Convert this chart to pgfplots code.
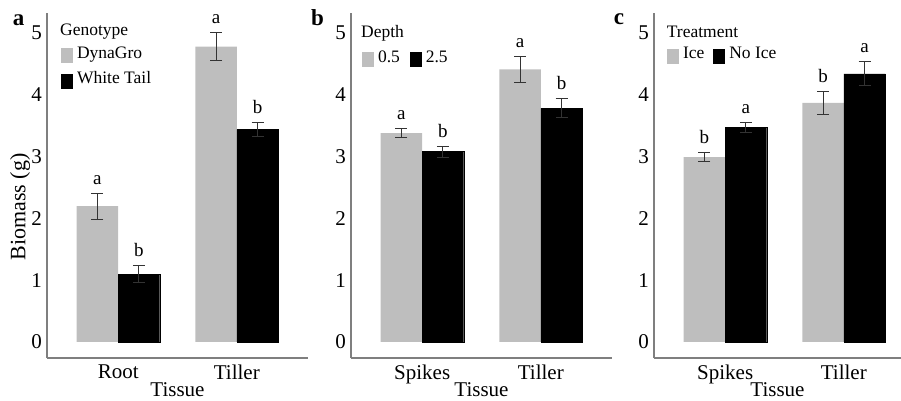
\documentclass[border=0pt]{standalone}
\usepackage{fontspec}
\setmainfont{Liberation Serif}
\usepackage{pgfplots}
\pgfplotsset{compat=1.18}
\usepackage{pgfplotstable}

\definecolor{barg}{HTML}{BEBEBE}
\definecolor{errc}{HTML}{333333}
\definecolor{axc}{HTML}{7F7F7F}

% Panel a
\pgfplotstableread{
x y e
0.825 2.20 0.21
1.825 4.78 0.23
}\aGray
\pgfplotstableread{
x y e
1.175 1.10 0.13
2.175 3.44 0.12
}\aBlack
\pgfplotstableread{
x y t
0.825 2.41 a
1.825 5.01 a
1.175 1.23 b
2.175 3.56 b
}\aLet
% Panel b
\pgfplotstableread{
x y e
0.825 3.38 0.075
1.825 4.41 0.21
}\bGray
\pgfplotstableread{
x y e
1.175 3.08 0.09
2.175 3.78 0.155
}\bBlack
\pgfplotstableread{
x y t
0.825 3.455 a
1.825 4.62 a
1.175 3.17 b
2.175 3.935 b
}\bLet
% Panel c
\pgfplotstableread{
x y e
0.825 2.99 0.075
1.825 3.87 0.19
}\cGray
\pgfplotstableread{
x y e
1.175 3.47 0.075
2.175 4.34 0.195
}\cBlack
\pgfplotstableread{
x y t
0.825 3.065 b
1.825 4.06 b
1.175 3.545 a
2.175 4.535 a
}\cLet

\pgfplotsset{
 panel/.style={
  scale only axis, width=261pt, height=345pt,
  xmin=0.4, xmax=2.6, ymin=-0.259, ymax=5.324,
  axis x line*=bottom, axis y line*=left,
  axis line style={-, draw=axc, line width=1.1pt},
  ytick={0,1,2,3,4,5}, xtick={1,2},
  major tick length=0pt,
  /pgf/number format/assume math mode=true,
  tick label style={font=\fontsize{21}{21}\selectfont},
  yticklabel style={inner sep=0pt, xshift=-5pt},
  xticklabel style={inner sep=0pt, yshift=-7pt},
  xlabel={Tissue},
  xlabel style={font=\fontsize{21}{21}\selectfont, at={(axis description cs:0.5,0)}, anchor=north, inner sep=0pt, yshift=-24pt},
  clip=false,
  legend style={draw=none, fill=none, inner sep=0pt, anchor=north west,
    font=\fontsize{17.5}{17.5}\selectfont,
    nodes={inner sep=0pt, text depth=0.15em, text height=0.68em},
    column sep=4.5pt, row sep=11.5pt},
  legend cell align=left,
 },
 gbar/.style={ybar, bar width=0.35, bar shift=0pt, fill=barg, draw=none, forget plot,
   error bars/.cd, y dir=both, y explicit,
   error bar style={draw=errc, line width=1pt},
   error mark options={rotate=90, draw=errc, line width=1pt, mark size=6pt}},
 kbar/.style={ybar, bar width=0.35, bar shift=0pt, fill=black, draw=black, forget plot,
   error bars/.cd, y dir=both, y explicit,
   error bar style={draw=errc, line width=1pt},
   error mark options={rotate=90, draw=errc, line width=1pt, mark size=6pt}},
 letters/.style={draw=none, mark=none, forget plot, nodes near coords, point meta=explicit symbolic,
   every node near coord/.append style={anchor=base, inner sep=0pt, yshift=9pt, font=\fontsize{19}{19}\selectfont}},
 gkey/.style={legend image code/.code={\fill[barg] (0pt,-7pt) rectangle (11pt,7pt);}},
 kkey/.style={legend image code/.code={\fill[black] (0pt,-7pt) rectangle (11pt,7pt);}},
}

\newcommand{\ttl}{\fontsize{17.5}{17.5}\selectfont}
\newcommand{\plab}{\fontsize{23}{23}\selectfont\bfseries}

\begin{document}
\begin{tikzpicture}
\useasboundingbox (0,0) rectangle (901pt,400pt);

% ---------- a ----------
\begin{axis}[panel, at={(47pt,42pt)}, anchor=south west,
  xticklabels={Root,Tiller},
  ylabel={Biomass (g)},
  ylabel style={at={(axis description cs:-0.1034,0.438)}, anchor=center, font=\fontsize{22}{22}\selectfont},
  legend style={at={(axis description cs:0.0536,0.8986)}}]
\addplot[gbar] table[x=x,y=y,y error=e] {\aGray};
\addplot[kbar] table[x=x,y=y,y error=e] {\aBlack};
\addplot[letters] table[x=x,y=y,meta=t] {\aLet};
\addlegendimage{gkey}\addlegendentry{DynaGro}
\addlegendimage{kkey}\addlegendentry{White Tail}
\node[anchor=base west, inner sep=0pt, font=\ttl] at (axis description cs:0.0498,0.936) {Genotype};
\node[anchor=base, inner sep=0pt, font=\plab] at (axis description cs:-0.109,0.965) {a};
\end{axis}

% ---------- b ----------
\begin{axis}[panel, at={(351pt,42pt)}, anchor=south west,
  xticklabels={Spikes,Tiller},
  legend columns=2,
  legend style={at={(axis description cs:0.0421,0.887)}, /tikz/column 2/.style={column sep=10pt}}]
\addplot[gbar] table[x=x,y=y,y error=e] {\bGray};
\addplot[kbar] table[x=x,y=y,y error=e] {\bBlack};
\addplot[letters] table[x=x,y=y,meta=t] {\bLet};
\addlegendimage{gkey}\addlegendentry{0.5}
\addlegendimage{kkey}\addlegendentry{2.5}
\node[anchor=base west, inner sep=0pt, font=\ttl] at (axis description cs:0.0383,0.929) {Depth};
\node[anchor=base, inner sep=0pt, font=\plab] at (axis description cs:-0.128,0.965) {b};
\end{axis}

% ---------- c ----------
\begin{axis}[panel, at={(654pt,42pt)}, anchor=south west,
  width=247pt, xmax=2.482,
  xticklabels={Spikes,Tiller},
  legend columns=2,
  legend style={at={(axis description cs:0.0526,0.896)}, /tikz/column 2/.style={column sep=9pt}}]
\addplot[gbar] table[x=x,y=y,y error=e] {\cGray};
\addplot[kbar] table[x=x,y=y,y error=e] {\cBlack};
\addplot[letters] table[x=x,y=y,meta=t] {\cLet};
\addlegendimage{gkey}\addlegendentry{Ice}
\addlegendimage{kkey}\addlegendentry{No Ice}
\node[anchor=base west, inner sep=0pt, font=\ttl] at (axis description cs:0.0514,0.930) {Treatment};
\node[anchor=base, inner sep=0pt, font=\plab] at (axis description cs:-0.1417,0.968) {c};
\end{axis}
\end{tikzpicture}
\end{document}
